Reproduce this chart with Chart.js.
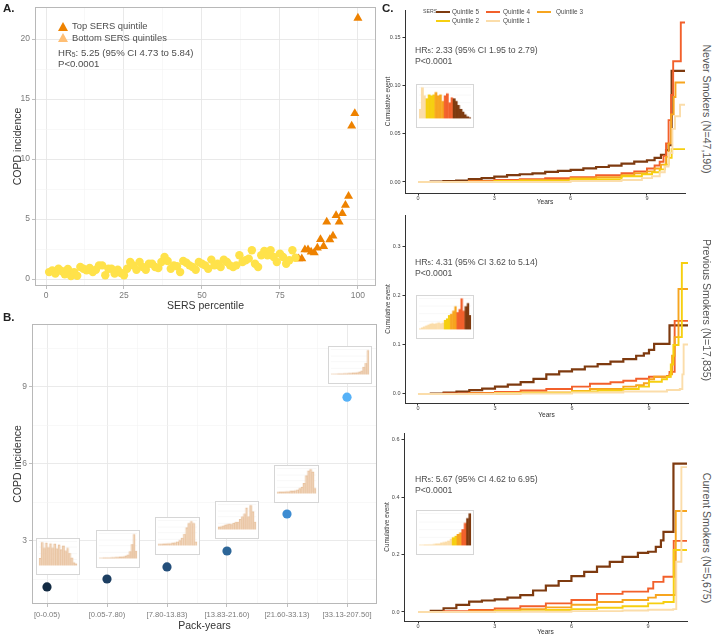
<!DOCTYPE html>
<html>
<head>
<meta charset="utf-8">
<script src="https://cdn.jsdelivr.net/npm/chart.js@4.4.0/dist/chart.umd.min.js"></script>
<style>
  body { margin: 0; width: 720px; height: 638px; position: relative; overflow: hidden; background: #fff;
         font-family: 'Liberation Sans', Arial, sans-serif; }
  canvas { position: absolute; }
  .t { position: absolute; white-space: nowrap; color: #4d4d4d; line-height: 1; transform: translateY(-50%); }
  .t sub { font-size: 0.7em; vertical-align: -0.15em; }
  .rot { position: absolute; white-space: nowrap; color: #555; line-height: 1; transform: translate(-50%, -50%) rotate(90deg); }
  .lab { position: absolute; font-weight: bold; font-size: 11.5px; color: #222; }
  .key { position: absolute; height: 2px; }
  .tri { position: absolute; width: 0; height: 0; border-left: 5px solid transparent; border-right: 5px solid transparent; }
</style>
</head>
<body>
<script>
// ---------- Panel A: COPD incidence by SERS percentile ----------
const bottomPct = [1,2,3,4,5,6,7,8,9,10,11,12,13,14,15,16,17,18,19,20,
                   21,22,23,24,25,26,27,28,29,30,31,32,33,34,35,36,37,38,39,40,
                   41,42,43,44,45,46,47,48,49,50,51,52,53,54,55,56,57,58,59,60,
                   61,62,63,64,65,66,67,68,69,70,71,72,73,74,75,76,77,78,79,80];
const bottomIncidence = [0.58,0.72,0.45,0.86,0.67,0.40,0.84,0.25,0.58,0.28,
                         1.00,0.86,0.72,0.92,0.58,0.78,1.14,1.14,0.31,0.86,
                         0.86,0.45,0.78,0.50,0.31,0.86,1.42,1.14,0.78,1.42,
                         1.00,0.78,1.28,1.28,1.00,0.92,1.42,1.84,1.50,0.86,
                         1.14,1.06,0.58,1.50,1.36,1.14,1.00,0.78,1.42,1.28,
                         1.14,0.86,1.62,1.14,1.28,1.00,1.62,1.42,1.14,1.00,
                         1.14,1.98,1.42,1.56,1.70,2.40,1.28,1.00,1.98,2.34,
                         1.98,2.40,1.84,1.42,2.12,1.84,1.28,1.56,2.40,1.78];
const topPct = [81,82,83,84,85,86,87,88,89,90,91,92,93,94,95,96,97,98,99,100];
const topIncidence = [1.70,1.70,2.45,2.45,2.26,2.20,2.60,3.30,2.73,4.76,
                      3.29,3.60,5.30,4.76,5.46,6.15,6.90,12.76,13.80,21.75];
const pctTicks = [0, 12.5, 25, 37.5, 50, 62.5, 75, 87.5, 100];
const incTicksA = [0, 2.5, 5, 7.5, 10, 12.5, 15, 17.5, 20];

// ---------- Panel B: COPD incidence by pack-years ----------
const packYearGroups = ['[0-0.05)', '[0.05-7.80)', '[7.80-13.83)', '[13.83-21.60)', '[21.60-33.13)', '[33.13-207.50]'];
const packYearIncidence = [1.21, 1.52, 1.99, 2.61, 4.05, 8.60];
const packTicksX = [1, 1.5, 2, 2.5, 3, 3.5, 4, 4.5, 5, 5.5, 6];
const incTicksB = [1.5, 3, 4.5, 6, 7.5, 9, 10.5];
// SERS distribution inside each pack-year group (relative bar heights)
const packHist1 = [0.30, 0.95, 0.72, 0.93, 0.75, 0.90, 0.72, 0.88, 0.70, 0.85, 0.66, 0.80, 0.60, 0.72, 0.50, 0.32, 0.12, 0.07];
const packHist2 = [0.02, 0.02, 0.03, 0.03, 0.03, 0.03, 0.04, 0.04, 0.05, 0.05, 0.06, 0.07, 0.08, 0.10, 0.15, 0.28, 0.55, 0.95, 0.30];
const packHist3 = [0.05, 0.05, 0.06, 0.07, 0.08, 0.08, 0.10, 0.12, 0.15, 0.20, 0.30, 0.45, 0.70, 0.88, 0.95, 0.88, 0.15];
const packHist4 = [0.10, 0.12, 0.15, 0.18, 0.20, 0.22, 0.20, 0.25, 0.30, 0.30, 0.40, 0.50, 0.62, 0.85, 0.50, 0.95, 0.70, 0.30];
const packHist5 = [0.05, 0.06, 0.06, 0.07, 0.08, 0.08, 0.10, 0.10, 0.12, 0.15, 0.20, 0.25, 0.40, 0.70, 0.90, 0.95, 0.85, 0.20];
const packHist6 = [0.02, 0.02, 0.02, 0.03, 0.03, 0.03, 0.04, 0.04, 0.05, 0.05, 0.06, 0.07, 0.08, 0.10, 0.15, 0.30, 0.45, 0.95];

// ---------- Panel C: cumulative COPD events by SERS quintile, [years, cumulative event] ----------
const quintileNames = ['Quintile 1', 'Quintile 2', 'Quintile 3', 'Quintile 4', 'Quintile 5'];
const yearTicks = [0, 3, 6, 9];

const neverQ1 = [[0,0],[3,0],[6,0.001],[8,0.002],[8.8,0.004],[9.2,0.006],[9.5,0.010],[9.7,0.016],[9.85,0.030],[10.0,0.055],[10.1,0.068],[10.3,0.080],[10.5,0.080]];
const neverQ2 = [[0,0],[3,0.001],[6,0.003],[8,0.006],[8.8,0.008],[9.2,0.010],[9.5,0.013],[9.7,0.018],[9.85,0.025],[9.97,0.034],[10.5,0.034]];
const neverQ3 = [[0,0],[2,0.0005],[4,0.002],[6,0.004],[7,0.005],[8,0.007],[8.5,0.009],[9,0.011],[9.3,0.014],[9.55,0.018],[9.75,0.026],[9.85,0.040],[9.95,0.070],[10.05,0.088],[10.12,0.103],[10.5,0.103]];
const neverQ4 = [[0,0],[1,0],[2,0.001],[3,0.002],[4,0.003],[5,0.004],[6,0.005],[7,0.007],[8,0.009],[8.5,0.011],[9,0.014],[9.3,0.017],[9.5,0.021],[9.65,0.027],[9.75,0.040],[9.85,0.064],[9.95,0.090],[10.03,0.125],[10.33,0.165],[10.5,0.165]];
const neverQ5 = [[0,0],[0.5,0.0005],[1,0.001],[1.5,0.0015],[2,0.003],[2.5,0.004],[3,0.0055],[3.5,0.007],[4,0.008],[4.5,0.009],[5,0.0105],[5.5,0.0115],[6,0.0125],[6.5,0.014],[7,0.0155],[7.5,0.017],[8,0.019],[8.5,0.021],[9,0.0225],[9.3,0.025],[9.55,0.028],[9.75,0.033],[9.85,0.038],[9.97,0.115],[10.5,0.115]];

const prevQ1 = [[0,0],[3,0.001],[6,0.003],[8,0.005],[9.7,0.008],[10.2,0.010],[10.3,0.040],[10.35,0.101],[10.55,0.101]];
const prevQ2 = [[0,0],[3,0.002],[6,0.005],[7,0.007],[8,0.010],[8.6,0.015],[9,0.025],[9.5,0.030],[9.7,0.035],[9.85,0.060],[9.95,0.100],[10.15,0.116],[10.28,0.267],[10.55,0.267]];
const prevQ3 = [[0,0],[2,0.001],[4,0.003],[6,0.006],[6.7,0.010],[8,0.015],[8.5,0.018],[8.8,0.022],[9.0,0.030],[9.2,0.035],[9.8,0.040],[9.9,0.078],[10.0,0.116],[10.15,0.214],[10.55,0.214]];
const prevQ4 = [[0,0],[1,0.001],[2,0.002],[3,0.004],[4,0.007],[5,0.010],[6,0.015],[6.7,0.021],[7.5,0.024],[8,0.027],[8.5,0.031],[9,0.035],[9.7,0.037],[9.8,0.045],[10.0,0.149],[10.55,0.149]];
const prevQ5 = [[0,0],[0.5,0.001],[1,0.003],[1.5,0.005],[2,0.008],[2.5,0.011],[3,0.015],[3.5,0.019],[4,0.024],[4.5,0.031],[5,0.040],[5.5,0.046],[6,0.050],[6.5,0.056],[7,0.061],[7.5,0.066],[8,0.071],[8.5,0.078],[8.8,0.083],[9,0.090],[9.2,0.102],[9.8,0.140],[10.55,0.140]];

const currQ1 = [[0,0],[3,0.001],[6,0.003],[8,0.005],[9,0.008],[9.98,0.010],[10.1,0.175],[10.3,0.505],[10.55,0.505]];
const currQ2 = [[0,0],[3,0.003],[5,0.007],[6,0.010],[7,0.015],[8,0.020],[9,0.030],[9.6,0.035],[10.0,0.216],[10.55,0.216]];
const currQ3 = [[0,0],[2,0.002],[3,0.005],[4,0.010],[5,0.016],[6,0.025],[7,0.035],[8,0.042],[9,0.050],[9.3,0.059],[10.08,0.352],[10.55,0.352]];
const currQ4 = [[0,0],[1,0.003],[2,0.007],[3,0.012],[4,0.020],[5,0.030],[6,0.042],[7,0.063],[8,0.071],[9,0.082],[9.2,0.105],[9.6,0.123],[10.0,0.248],[10.55,0.248]];
const currQ5 = [[0,0],[0.5,0.004],[1,0.013],[1.5,0.025],[2,0.036],[2.5,0.040],[3,0.044],[3.5,0.050],[4,0.059],[4.5,0.075],[5,0.092],[5.5,0.108],[6,0.125],[6.5,0.140],[7,0.158],[7.5,0.175],[8,0.192],[8.6,0.206],[9,0.210],[9.3,0.227],[9.5,0.250],[9.6,0.279],[9.99,0.517],[10.55,0.517]];

// SERS histograms inside panel C (bar height, quintile of the bar 1..5)
const neverHist  = [0.30,1.00,0.73,0.64,0.77,0.73,0.77,0.85,0.73,0.77,0.56,0.73,0.81,0.51,0.68,0.64,0.56,0.43,0.30,0.21,0.13,0.06,0.03];
const neverHistQ = [1,1,1,2,2,2,2,3,3,3,3,4,4,4,4,5,5,5,5,5,5,5,5];
const prevHist   = [0.03,0.05,0.08,0.12,0.15,0.18,0.20,0.18,0.20,0.22,0.20,0.22,0.30,0.35,0.45,0.50,0.60,0.75,0.55,0.65,1.00,0.60,0.75,0.85,0.45];
const prevHistQ  = [1,1,1,1,1,1,1,1,1,1,1,1,2,2,2,3,3,3,4,4,4,4,5,5,5];
const currHist   = [0.01,0.01,0.02,0.02,0.03,0.03,0.04,0.05,0.06,0.08,0.10,0.12,0.15,0.20,0.25,0.30,0.35,0.40,0.50,0.70,0.85,1.00];
const currHistQ  = [1,1,1,1,1,1,1,1,1,1,1,1,1,1,2,2,3,3,4,4,5,5];

// ---------- styles ----------
const FONT = "'Liberation Sans', Arial, sans-serif";
Chart.defaults.font.family = FONT;
Chart.defaults.animation = false;
Chart.defaults.responsive = false;
Chart.defaults.plugins.legend.display = false;
Chart.defaults.plugins.tooltip.enabled = false;

const quintileColors = ['#FBDDAA', '#F6CF10', '#F7A51F', '#F2602B', '#7E3A0F'];
const packColors = ['#132B43', '#1D3F62', '#244F7B', '#2D6698', '#3D8CD2', '#56B1F7'];

// panel frame (ggplot theme_light border)
Chart.register({
  id: 'frame',
  afterDraw(chart, args, opts) {
    if (!opts.color) return;
    const a = chart.chartArea, c = chart.ctx;
    c.save();
    c.strokeStyle = opts.color;
    c.lineWidth = 1;
    c.strokeRect(a.left + 0.5, a.top + 0.5, a.right - a.left - 1, a.bottom - a.top - 1);
    c.restore();
  }
});

function place(area, yW, xH, padT, padR) {
  const cv = document.createElement('canvas');
  cv.width = area.r - area.l + yW + padR;
  cv.height = area.b - area.t + xH + padT;
  cv.style.left = (area.l - yW) + 'px';
  cv.style.top = (area.t - padT) + 'px';
  document.body.appendChild(cv);
  return cv;
}
function fixW(w) { return s => { s.width = w; s.paddingTop = 0; s.paddingBottom = 0; }; }
function fixH(h) { return s => { s.height = h; s.paddingLeft = 0; s.paddingRight = 0; }; }
function setTicks(vals) { return s => { s.ticks = vals.map(v => ({ value: v })); }; }
function pts(pairs) { return pairs.map(p => ({ x: p[0], y: p[1] })); }

function txt(html, x, y, size, extra) {
  const d = document.createElement('div');
  d.className = 't';
  d.innerHTML = html;
  d.style.left = x + 'px';
  d.style.top = y + 'px';
  d.style.fontSize = size + 'px';
  if (extra) Object.assign(d.style, extra);
  document.body.appendChild(d);
  return d;
}

// ---------- Panel A ----------
const areaA = { l: 35, t: 7, r: 376, b: 286 };
new Chart(place(areaA, 35, 26, 1, 2), {
  type: 'scatter',
  data: {
    datasets: [
      { label: 'Bottom SERS quintiles', data: bottomPct.map((x, i) => ({ x: x, y: bottomIncidence[i] })),
        pointStyle: 'circle', pointRadius: 4.2, backgroundColor: '#FFE24A', borderWidth: 0 },
      { label: 'Top SERS quintile', data: topPct.map((x, i) => ({ x: x, y: topIncidence[i] })),
        pointStyle: 'triangle', pointRadius: 5.2, backgroundColor: '#EE8200', borderWidth: 0 }
    ]
  },
  options: {
    devicePixelRatio: 1,
    layout: { autoPadding: false, padding: { top: 1, right: 2, left: 0, bottom: 0 } },
    plugins: { frame: { color: '#b8b8b8' } },
    scales: {
      x: {
        type: 'linear', min: -3.53, max: 105.8,
        afterBuildTicks: setTicks(pctTicks), afterFit: fixH(26),
        ticks: { autoSkip: false, maxRotation: 0, padding: 2, font: { size: 8.5 }, color: '#7a7a7a',
                 callback: v => (v % 25 === 0 ? v : '') },
        grid: { color: c => (c.tick && c.tick.value % 25 === 0 ? '#e6e6e6' : '#f3f3f3'),
                lineWidth: c => (c.tick && c.tick.value % 25 === 0 ? 0.9 : 0.6),
                tickLength: 3, tickColor: c => (c.tick && c.tick.value % 25 === 0 ? '#b8b8b8' : 'rgba(0,0,0,0)') },
        border: { display: false },
        title: { display: true, text: 'SERS percentile', color: '#333', font: { size: 10.5, lineHeight: 1 }, padding: { top: 0, bottom: 1 } }
      },
      y: {
        type: 'linear', min: -0.58, max: 22.67,
        afterBuildTicks: setTicks(incTicksA), afterFit: fixW(35),
        ticks: { autoSkip: false, padding: 2, font: { size: 8.5 }, color: '#7a7a7a',
                 callback: v => (v % 5 === 0 ? v : '') },
        grid: { color: c => (c.tick && c.tick.value % 5 === 0 ? '#e6e6e6' : '#f3f3f3'),
                lineWidth: c => (c.tick && c.tick.value % 5 === 0 ? 0.9 : 0.6),
                tickLength: 3, tickColor: c => (c.tick && c.tick.value % 5 === 0 ? '#b8b8b8' : 'rgba(0,0,0,0)') },
        border: { display: false },
        title: { display: true, text: 'COPD incidence', color: '#333', font: { size: 10.5, lineHeight: 1 }, padding: { top: 13, bottom: 0 } }
      }
    }
  }
});

// ---------- Panel B ----------
const areaB = { l: 32, t: 324, r: 377, b: 604 };
new Chart(place(areaB, 32, 34, 2, 2), {
  type: 'scatter',
  data: {
    datasets: [{
      label: 'COPD incidence',
      data: packYearIncidence.map((y, i) => ({ x: i + 1, y: y })),
      pointRadius: 4.6, pointBackgroundColor: packColors, borderWidth: 0
    }]
  },
  options: {
    devicePixelRatio: 1,
    layout: { autoPadding: false, padding: { top: 2, right: 2, left: 0, bottom: 0 } },
    plugins: { frame: { color: '#b8b8b8' } },
    scales: {
      x: {
        type: 'linear', min: 0.75, max: 6.5,
        afterBuildTicks: setTicks(packTicksX), afterFit: fixH(34),
        ticks: { autoSkip: false, maxRotation: 0, padding: 3, font: { size: 7.6 }, color: '#7a7a7a',
                 callback: v => (Number.isInteger(v) ? packYearGroups[v - 1] : '') },
        grid: { color: c => (c.tick && Number.isInteger(c.tick.value) ? '#e8e8e8' : '#f3f3f3'),
                lineWidth: c => (c.tick && Number.isInteger(c.tick.value) ? 0.9 : 0.6),
                tickLength: 3, tickColor: c => (c.tick && Number.isInteger(c.tick.value) ? '#b8b8b8' : 'rgba(0,0,0,0)') },
        border: { display: false },
        title: { display: true, text: 'Pack-years', color: '#333', font: { size: 10.5, lineHeight: 1 }, padding: { top: 0, bottom: 7 } }
      },
      y: {
        type: 'linear', min: 0.546, max: 11.45,
        afterBuildTicks: setTicks(incTicksB), afterFit: fixW(32),
        ticks: { autoSkip: false, padding: 2, font: { size: 8.5 }, color: '#7a7a7a',
                 callback: v => (v % 3 === 0 ? v : '') },
        grid: { color: c => (c.tick && c.tick.value % 3 === 0 ? '#e8e8e8' : '#f3f3f3'),
                lineWidth: c => (c.tick && c.tick.value % 3 === 0 ? 0.9 : 0.6),
                tickLength: 3, tickColor: c => (c.tick && c.tick.value % 3 === 0 ? '#b8b8b8' : 'rgba(0,0,0,0)') },
        border: { display: false },
        title: { display: true, text: 'COPD incidence', color: '#333', font: { size: 10.5, lineHeight: 1 }, padding: { top: 13, bottom: 0 } }
      }
    }
  }
});

// small SERS histograms (insets)
function inset(box, heights, colors, borders) {
  const cv = document.createElement('canvas');
  cv.width = box[2] - 2;
  cv.height = box[3] - 2;
  cv.style.left = box[0] + 'px';
  cv.style.top = box[1] + 'px';
  cv.style.border = '1px solid #d6d6d6';
  cv.style.background = '#fff';
  document.body.appendChild(cv);
  new Chart(cv, {
    type: 'bar',
    data: {
      labels: heights.map((h, i) => i),
      datasets: [{ data: heights, backgroundColor: colors, borderColor: borders, borderWidth: 0.7,
                   categoryPercentage: 1, barPercentage: 1 }]
    },
    options: {
      devicePixelRatio: 1,
      layout: { autoPadding: false, padding: { left: 2, right: 2, top: 1, bottom: 1 } },
      scales: {
        x: { ticks: { display: false }, grid: { display: false }, border: { display: false } },
        y: { min: 0, max: 1.05, afterBuildTicks: setTicks([0.25, 0.5, 0.75, 1]),
             ticks: { display: false }, grid: { color: '#f2f2f2', lineWidth: 0.6, drawTicks: false },
             border: { display: false }, afterFit: fixW(0) }
      }
    }
  });
}
const packInsetBoxes = [[36, 538, 46, 39], [96, 530, 46, 40], [155, 517, 47, 40], [215, 501, 46, 40], [274, 465, 47, 40], [328, 346, 46, 40]];
[packHist1, packHist2, packHist3, packHist4, packHist5, packHist6].forEach((h, i) =>
  inset(packInsetBoxes[i], h, 'rgba(246,224,204,0.55)', '#E6BE98'));

// ---------- Panel C ----------
function kmChart(area, yMin, yMax, yTicks, dec, xMin, xMax, padT, xH, yearPad, series) {
  new Chart(place(area, 25, xH, padT, 2), {
    type: 'line',
    data: {
      datasets: series.map((s, i) => ({
        label: quintileNames[i], data: pts(s), stepped: true,
        borderColor: quintileColors[i], borderWidth: i === 4 ? 2.2 : 1.9,
        pointRadius: 0, fill: false
      }))
    },
    options: {
      devicePixelRatio: 1,
      layout: { autoPadding: false, padding: { top: padT, right: 2, left: 0, bottom: 0 } },
      scales: {
        x: {
          type: 'linear', min: xMin, max: xMax,
          afterBuildTicks: setTicks(yearTicks), afterFit: fixH(xH),
          ticks: { autoSkip: false, maxRotation: 0, padding: 0, font: { size: 5.5 }, color: '#444' },
          grid: { drawOnChartArea: false, tickLength: 2.5, tickColor: '#333' },
          border: { display: true, color: '#333', width: 1 },
          title: { display: true, text: 'Years', color: '#333', font: { size: 6.6, lineHeight: 1 }, padding: { top: 0, bottom: yearPad } }
        },
        y: {
          type: 'linear', min: yMin, max: yMax,
          afterBuildTicks: setTicks(yTicks), afterFit: fixW(25),
          ticks: { autoSkip: false, padding: 2, font: { size: 5.5 }, color: '#444', callback: v => v.toFixed(dec) },
          grid: { drawOnChartArea: false, tickLength: 2.5, tickColor: '#333' },
          border: { display: true, color: '#333', width: 1 },
          title: { display: true, text: 'Cumulative event', color: '#333', font: { size: 6.4, lineHeight: 1 }, padding: { top: 5, bottom: 0 } }
        }
      }
    }
  });
}

kmChart({ l: 405, t: 10, r: 685, b: 193 }, -0.0114, 0.178, [0, 0.05, 0.10, 0.15], 2, -0.511, 10.495, 10, 14, 1.5,
        [neverQ1, neverQ2, neverQ3, neverQ4, neverQ5]);
kmChart({ l: 405, t: 215, r: 688, b: 403 }, -0.0184, 0.365, [0, 0.1, 0.2, 0.3], 1, -0.506, 10.52, 6, 16, 0.5,
        [prevQ1, prevQ2, prevQ3, prevQ4, prevQ5]);
kmChart({ l: 404, t: 433, r: 687, b: 621 }, -0.0314, 0.624, [0, 0.2, 0.4, 0.6], 1, -0.548, 10.52, 6, 16, 1.5,
        [currQ1, currQ2, currQ3, currQ4, currQ5]);

inset([416, 84, 60, 46], neverHist, neverHistQ.map(q => quintileColors[q - 1]), neverHistQ.map(q => quintileColors[q - 1]));
inset([416, 295, 60, 46], prevHist, prevHistQ.map(q => quintileColors[q - 1]), prevHistQ.map(q => quintileColors[q - 1]));
inset([416, 510, 60, 47], currHist, currHistQ.map(q => quintileColors[q - 1]), currHistQ.map(q => quintileColors[q - 1]));

// ---------- text ----------
function panelLabel(s, x, y) {
  const d = document.createElement('div');
  d.className = 'lab'; d.textContent = s;
  d.style.left = x + 'px'; d.style.top = y + 'px';
  document.body.appendChild(d);
}
panelLabel('A.', 3, 2);
panelLabel('B.', 3, 311);
panelLabel('C.', 382, 2);

// panel A legend + stats
function tri(x, y, color) {
  const d = document.createElement('div');
  d.className = 'tri';
  d.style.left = (x - 5) + 'px'; d.style.top = (y - 4.5) + 'px';
  d.style.borderBottom = '9px solid ' + color;
  document.body.appendChild(d);
}
tri(63, 26, '#EE8200');
tri(63, 37, '#FFBF75');
txt('Top SERS quintile', 72, 26, 9.4);
txt('Bottom SERS quintiles', 72, 37.5, 9.4);
txt('HR<sub>5</sub>: 5.25 (95% CI 4.73 to 5.84)', 58, 53, 9.6);
txt('P&lt;0.0001', 58, 64, 9.6);

// panel C legend
txt('SERS', 423, 12, 5.2);
const keyPos = [[486, 21, 503], [436, 21, 452], [537, 12, 556], [486, 12, 503], [436, 12, 452]];
keyPos.forEach((k, i) => {
  const d = document.createElement('div');
  d.className = 'key';
  d.style.left = k[0] + 'px'; d.style.top = (k[1] - 1) + 'px'; d.style.width = '14px';
  d.style.background = quintileColors[i];
  document.body.appendChild(d);
  txt(quintileNames[i], k[2], k[1], 6.4);
});

txt('HR<sub>5</sub>: 2.33 (95% CI 1.95 to 2.79)', 415, 50, 8.7);
txt('P&lt;0.0001', 415, 61, 8.7);
txt('HR<sub>5</sub>: 4.31 (95% CI 3.62 to 5.14)', 415, 262, 8.7);
txt('P&lt;0.0001', 415, 272.5, 8.7);
txt('HR<sub>5</sub>: 5.67 (95% CI 4.62 to 6.95)', 415, 479, 8.7);
txt('P&lt;0.0001', 415, 489.5, 8.7);

function rot(s, x, y) {
  const d = document.createElement('div');
  d.className = 'rot'; d.textContent = s;
  d.style.left = x + 'px'; d.style.top = y + 'px'; d.style.fontSize = '10.6px';
  document.body.appendChild(d);
}
rot('Never Smokers (N=47,190)', 707, 109);
rot('Previous Smokers (N=17,835)', 707, 310);
rot('Current Smokers (N=5,675)', 707, 538);
</script>
</body>
</html>
